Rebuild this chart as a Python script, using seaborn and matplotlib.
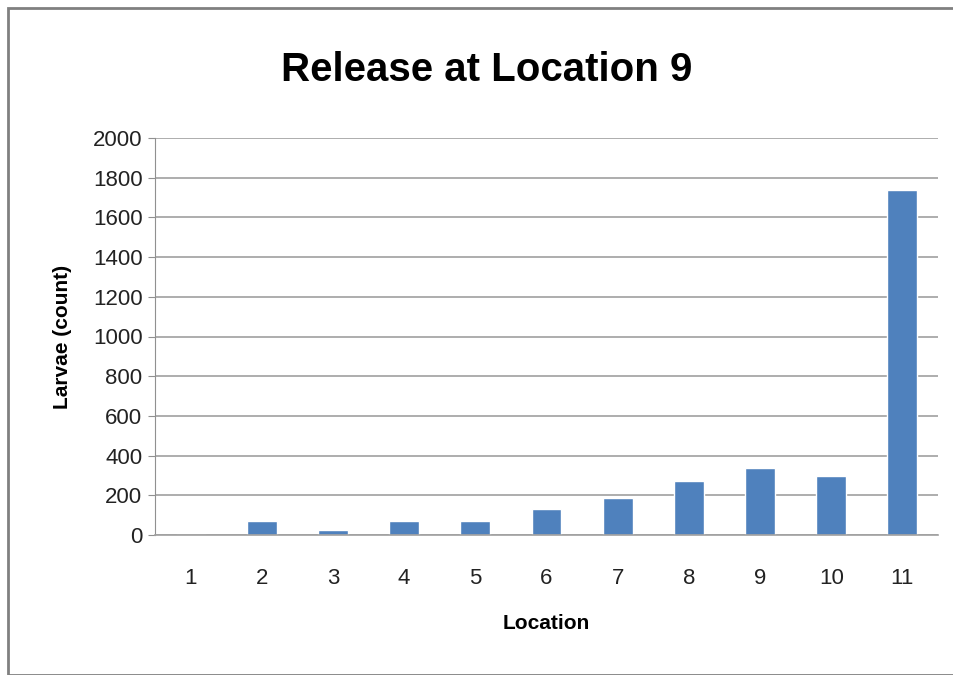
import seaborn as sns
import matplotlib.pyplot as plt
import matplotlib.patches as mpatches
import pandas as pd

locations = ['1', '2', '3', '4', '5', '6', '7', '8', '9', '10', '11']
larvae = [0, 69, 25, 69, 69, 133, 185, 272, 338, 295, 1736]

df = pd.DataFrame({'Location': locations, 'Larvae (count)': larvae})

sns.set_style('white')
plt.rcParams['font.family'] = ['Liberation Sans', 'DejaVu Sans']
plt.rcParams['text.color'] = 'black'
plt.rcParams['axes.labelcolor'] = 'black'
plt.rcParams['xtick.color'] = 'black'
plt.rcParams['ytick.color'] = 'black'

fig = plt.figure(figsize=(9.54, 6.75), dpi=100)
ax = fig.add_axes([155 / 954, 1 - 535 / 675, (938 - 155) / 954, (535 - 138) / 675])

sns.barplot(df, x='Location', y='Larvae (count)', color='#4f81bd',
            saturation=1, width=0.42, ax=ax)

ax.set_ylim(0, 2000)
ax.set_yticks(range(0, 2001, 200))
ax.yaxis.grid(True, color='#a0a0a0', linewidth=1.2)
ax.set_axisbelow(True)
for side in ['top', 'right']:
    ax.spines[side].set_visible(False)
ax.spines['left'].set_color('#909090')
ax.spines['bottom'].set_color('#a0a0a0')
ax.spines['bottom'].set_linewidth(1.2)
ax.tick_params(axis='y', left=True, length=5, color='#909090', labelsize=16, pad=4,
               labelcolor='#222222')
ax.tick_params(axis='x', bottom=False, labelsize=16, pad=20, labelcolor='#222222')
ax.set_xlabel('Location', fontsize=15, fontweight='bold', labelpad=18)
ax.set_ylabel('Larvae (count)', fontsize=15, fontweight='bold', labelpad=15)

fig.text(0.51, 1 - 70 / 675, 'Release at Location 9', ha='center', va='center',
         fontsize=29, fontweight='bold')

# outer chart border
fig.patches.append(mpatches.Rectangle((8 / 954, 0), 1, 1 - 8 / 675, transform=fig.transFigure,
                                      fill=False, edgecolor='#808080', linewidth=2))

fig.savefig('out.png')
